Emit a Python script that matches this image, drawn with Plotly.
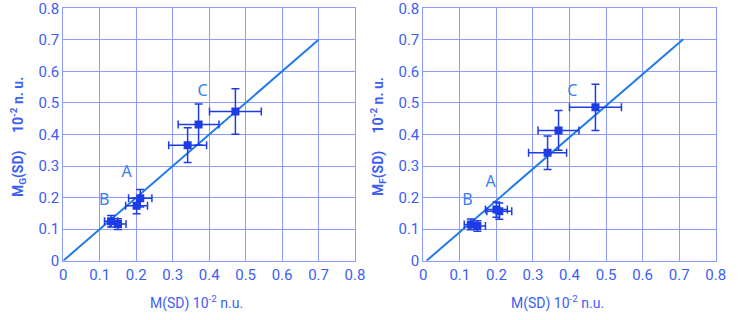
import plotly.graph_objects as go
from plotly.subplots import make_subplots

# left panel: M_G(SD) vs M(SD)
g_x = [0.472, 0.371, 0.341, 0.211, 0.201, 0.131, 0.150]
g_y = [0.473, 0.432, 0.366, 0.198, 0.174, 0.125, 0.116]
g_xerr = [0.071, 0.056, 0.052, 0.032, 0.030, 0.018, 0.022]
g_yerr = [0.072, 0.065, 0.055, 0.028, 0.025, 0.018, 0.017]
g_line_x = [0.0, 0.70]
g_line_y = [0.0, 0.70]

# right panel: M_F(SD) vs M(SD)
f_x = [0.471, 0.370, 0.340, 0.208, 0.200, 0.130, 0.148]
f_y = [0.486, 0.413, 0.342, 0.157, 0.162, 0.115, 0.110]
f_xerr = [0.071, 0.056, 0.052, 0.034, 0.030, 0.018, 0.022]
f_yerr = [0.073, 0.063, 0.053, 0.026, 0.024, 0.017, 0.017]
f_line_x = [0.009, 0.711]
f_line_y = [0.0, 0.702]

group_labels = ['A', 'B', 'C']
g_label_x = [0.174, 0.112, 0.382]
g_label_y = [0.279, 0.190, 0.534]
f_label_x = [0.184, 0.121, 0.408]
f_label_y = [0.247, 0.189, 0.534]

ticks = [0, 0.1, 0.2, 0.3, 0.4, 0.5, 0.6, 0.7, 0.8]
tick_text = ['0', '0.1', '0.2', '0.3', '0.4', '0.5', '0.6', '0.7', '0.8']

TXT = '#3d5ef5'
GRID = '#8c9bff'
MARK = '#1d3ce6'
LINE = '#1f7be6'
FONT = 'Roboto, sans-serif'
W, H = 747, 320

fig = make_subplots(rows=1, cols=2)

panels = [(g_x, g_y, g_xerr, g_yerr, g_line_x, g_line_y, g_label_x, g_label_y),
          (f_x, f_y, f_xerr, f_yerr, f_line_x, f_line_y, f_label_x, f_label_y)]
for i, (px, py, ex, ey, lx, ly, tx, ty) in enumerate(panels):
    col = i + 1
    fig.add_trace(go.Scatter(x=lx, y=ly, mode='lines',
                             line=dict(color=LINE, width=2), showlegend=False),
                  row=1, col=col)
    fig.add_trace(go.Scatter(x=px, y=py, mode='markers',
                             marker=dict(color=MARK, size=8, symbol='square'),
                             error_x=dict(type='data', array=ex, color=MARK, thickness=1.5, width=4),
                             error_y=dict(type='data', array=ey, color=MARK, thickness=1.5, width=4),
                             showlegend=False),
                  row=1, col=col)
    fig.add_trace(go.Scatter(x=tx, y=ty, mode='text', text=group_labels,
                             textfont=dict(color='#3a7df0', size=16, family='Noto Sans'),
                             showlegend=False),
                  row=1, col=col)

axis_common = dict(range=[0, 0.8], tickvals=ticks, ticktext=tick_text,
                   showgrid=True, gridcolor=GRID, gridwidth=1, automargin=False,
                   zeroline=False, showline=True, linecolor=GRID, mirror=True,
                   ticklabeloverflow='allow',
                   ticks='', tickfont=dict(color=TXT, size=15, family=FONT))
fig.update_xaxes(**axis_common)
fig.update_yaxes(**axis_common)
fig.update_layout(
    xaxis=dict(domain=[63.3 / W, 355 / W]),
    xaxis2=dict(domain=[423.3 / W, 715.7 / W]),
    yaxis=dict(domain=[1 - 260.7 / H, 1 - 8.3 / H]),
    yaxis2=dict(domain=[1 - 260.7 / H, 1 - 8.3 / H]),
    width=W, height=H,
    margin=dict(l=0, r=0, t=0, b=0),
    paper_bgcolor='white', plot_bgcolor='white',
    font=dict(family=FONT, color=TXT),
)

sp = '&nbsp;' * 5
xt = 'M(SD) 10<sup>-2</sup> n.u.'
for cx in [196, 557]:
    fig.add_annotation(text=xt, x=cx / W, y=1 - 302 / H, xref='paper', yref='paper',
                       xanchor='center', yanchor='middle',
                       showarrow=False, font=dict(size=14, color=TXT, family=FONT))
for cx, sub in [(18, 'G'), (378, 'F')]:
    fig.add_annotation(text='<b>M<sub>' + sub + '</sub>(SD)' + sp + '10<sup>-2</sup> n. u.</b>',
                       textangle=-90, x=cx / W, y=1 - 137 / H, xref='paper', yref='paper',
                       xanchor='center', yanchor='middle',
                       showarrow=False, font=dict(size=14, color=TXT, family=FONT))

fig.write_html("out.html", config={'displayModeBar': False},
               post_script="document.body.style.margin='0';")
